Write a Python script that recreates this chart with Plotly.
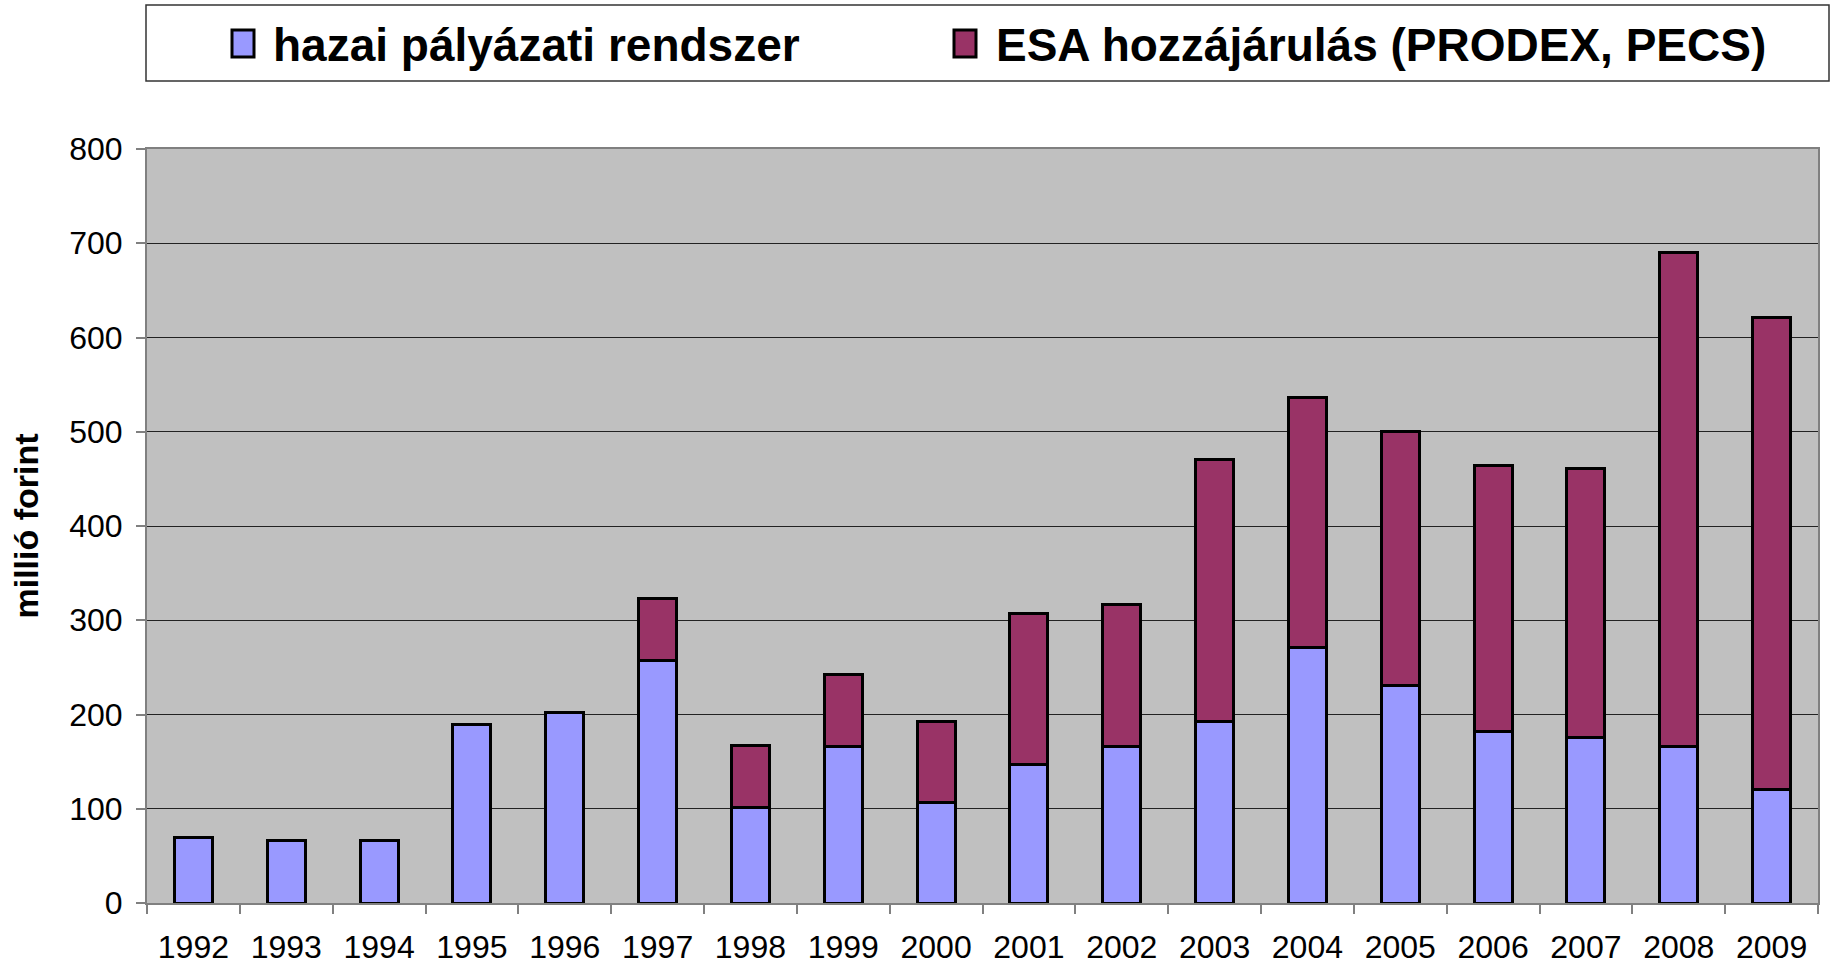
import plotly.graph_objects as go

years = ["1992", "1993", "1994", "1995", "1996", "1997", "1998", "1999", "2000",
         "2001", "2002", "2003", "2004", "2005", "2006", "2007", "2008", "2009"]
hazai = [69, 66, 66, 189, 202, 257, 101, 166, 107, 147, 166, 193, 271, 231, 182, 176, 166, 120]
esa_total = [69, 66, 66, 189, 202, 323, 167, 242, 193, 307, 317, 471, 536, 500, 464, 461, 690, 621]
esa = [t - h for t, h in zip(esa_total, hazai)]

series_names = ["hazai pályázati rendszer", "ESA hozzájárulás (PRODEX, PECS)"]
series_colors = ["#9999FF", "#993366"]

y_ticks = [0, 100, 200, 300, 400, 500, 600, 700, 800]

FONT = "Liberation Sans, Arial, sans-serif"
W, H = 1833, 966
# plot area in pixels: x 147..1818, y 149..903
ML, MT = 147, 149
MR, MB = W - 1818, H - 903
PW, PH = W - ML - MR, H - MT - MB


def px_x(p):
    return (p - ML) / PW


def px_y(p):
    return (H - MB - p) / PH


fig = go.Figure()
for vals, name, col in zip([hazai, esa], series_names, series_colors):
    fig.add_trace(go.Bar(
        x=years, y=vals, name=name, showlegend=False,
        marker=dict(color=col, line=dict(color="black", width=3)),
    ))

# legend-only entries (symbol drawn as shapes below)
for i, name in enumerate(series_names):
    fig.add_trace(go.Scatter(
        x=[None], y=[None], mode="markers", name=name,
        marker=dict(color="rgba(0,0,0,0)", size=1, line=dict(width=0)),
        legend="legend" if i == 0 else "legend2",
        hoverinfo="skip",
    ))

legend_common = dict(
    orientation="h",
    xref="container", yref="container",
    xanchor="left", yanchor="middle",
    y=1 - 43 / H,
    font=dict(family=FONT, size=46, color="black", weight="bold"),
    bgcolor="rgba(0,0,0,0)",
    borderwidth=0,
)

fig.update_layout(
    barmode="stack",
    bargap=0.59,
    width=W, height=H,
    margin=dict(l=ML, r=MR, t=MT, b=MB, autoexpand=False),
    paper_bgcolor="white",
    plot_bgcolor="#C0C0C0",
    font=dict(family=FONT, color="black", size=32),
    showlegend=True,
    legend=dict(legend_common, x=(274 - 41) / W),
    legend2=dict(legend_common, x=(997 - 41) / W),
    xaxis=dict(
        type="category",
        automargin=False,
        showgrid=False,
        ticks="outside", ticklen=9, tickcolor="#808080", tickwidth=1.5,
        tickson="boundaries",
        showline=True, linecolor="#808080", linewidth=2, mirror=True,
        tickfont=dict(size=32, family=FONT, color="black"),
        ticklabelstandoff=15,
    ),
    yaxis=dict(
        range=[0, 800],
        automargin=False,
        tickvals=y_ticks,
        showgrid=True, gridcolor="#222222", gridwidth=1,
        ticks="outside", ticklen=9, tickcolor="#808080", tickwidth=1.5,
        showline=True, linecolor="#808080", linewidth=2, mirror=True,
        tickfont=dict(size=32, family=FONT, color="black"),
        ticklabelstandoff=7,
        zeroline=False,
        title=dict(text="millió forint", font=dict(size=34, family=FONT, color="black", weight="bold"), standoff=20),
    ),
    shapes=[
        dict(type="rect", xref="paper", yref="paper",
             x0=px_x(146), x1=px_x(1829), y0=px_y(81), y1=px_y(5),
             line=dict(color="#333333", width=1.5), fillcolor="rgba(0,0,0,0)"),
        dict(type="rect", xref="paper", yref="paper",
             x0=px_x(232), x1=px_x(254), y0=px_y(57), y1=px_y(30),
             line=dict(color="black", width=3), fillcolor=series_colors[0]),
        dict(type="rect", xref="paper", yref="paper",
             x0=px_x(954), x1=px_x(976), y0=px_y(57), y1=px_y(30),
             line=dict(color="black", width=3), fillcolor=series_colors[1]),
    ],
)

fig.write_html(
    "out.html",
    config={"displayModeBar": False},
    post_script="document.body.style.margin='0';document.body.style.overflow='hidden';",
)
